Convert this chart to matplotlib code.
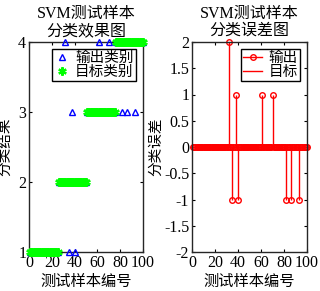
import numpy as np
import matplotlib
matplotlib.use("Agg")
import matplotlib.pyplot as plt
from matplotlib.lines import Line2D

plt.rcParams['font.family'] = ['Liberation Serif', 'Noto Sans CJK SC']
plt.rcParams['axes.unicode_minus'] = False

# ---- data ----
n_samples = 100
target_class = [1] * 25 + [2] * 25 + [3] * 25 + [4] * 25
error_idx = [32, 35, 38, 40, 61, 70, 82, 86, 93]
error_val = [2, -1, 1, -1, 1, 1, -1, -1, -1]

sample_no = np.arange(1, n_samples + 1)
target = np.array(target_class, dtype=float)
err = np.zeros(n_samples)
for i, v in zip(error_idx, error_val):
    err[i - 1] = v
output = target + err

fig = plt.figure(figsize=(3.2, 2.91), dpi=100)
ax1 = fig.add_axes([29 / 320, 39 / 291, 114 / 320, 210 / 291])
ax2 = fig.add_axes([192 / 320, 39 / 291, 115 / 320, 210 / 291])

asterisk = (6, 2, 0)
ax1.plot(sample_no, output, linestyle='none', marker='^', markersize=4.5,
         markerfacecolor='none', markeredgecolor='blue', markeredgewidth=1.0,
         label='输出类别', clip_on=False, zorder=3)
ax1.plot(sample_no, target, linestyle='none', marker=asterisk, markersize=6,
         color='#00ff00', markeredgewidth=1.6, label='目标类别', clip_on=False,
         zorder=4)
ax1.set_xlim(0, 100)
ax1.set_ylim(1, 4)
ax1.set_xticks([0, 20, 40, 60, 80, 100])
ax1.set_yticks([1, 2, 3, 4])
ax1.set_title('SVM测试样本\n分类效果图', fontsize=11.5, pad=5, linespacing=1.1)
ax1.set_xlabel('测试样本编号', fontsize=11, labelpad=3)
ax1.set_ylabel('分类结果', fontsize=10.5)
ax1.yaxis.set_label_coords(-0.15, 0.5)
leg1 = ax1.legend(loc='upper right', fontsize=10.5, frameon=True, fancybox=False,
                  edgecolor='black', framealpha=1, handlelength=1.0,
                  handletextpad=0.4, borderpad=0.15, labelspacing=0.05,
                  borderaxespad=0.5)
leg1.get_frame().set_linewidth(1.0)

markerline, stemlines, baseline = ax2.stem(sample_no, err, linefmt='r-',
                                            markerfmt='ro', basefmt='r-')
markerline.set_markerfacecolor('none')
markerline.set_markersize(4)
markerline.set_markeredgewidth(1.0)
markerline.set_clip_on(False)
stemlines.set_linewidth(1.0)
baseline.set_linewidth(1.0)
ax2.plot(sample_no, np.zeros(n_samples), 'r-', linewidth=1.0)
ax2.set_xlim(0, 100)
ax2.set_ylim(-2, 2)
ax2.set_xticks([0, 20, 40, 60, 80, 100])
ax2.set_yticks([-2, -1.5, -1, -0.5, 0, 0.5, 1, 1.5, 2])
ax2.set_yticklabels(['-2', '-1.5', '-1', '-0.5', '0', '0.5', '1', '1.5', '2'])
ax2.set_title('SVM测试样本\n分类误差图', fontsize=11.5, pad=5, linespacing=1.1)
ax2.set_xlabel('测试样本编号', fontsize=11, labelpad=3)
ax2.set_ylabel('分类误差', fontsize=10.5)
ax2.yaxis.set_label_coords(-0.25, 0.5)
handles = [Line2D([], [], color='red', marker='o', markerfacecolor='none',
                  markersize=4, linewidth=1.0),
           Line2D([], [], color='red', linewidth=1.0)]
leg2 = ax2.legend(handles, ['输出', '目标'], loc='upper right', fontsize=10.5,
                  frameon=True, fancybox=False, edgecolor='black', framealpha=1,
                  handlelength=1.3, handletextpad=0.4, borderpad=0.15,
                  labelspacing=0.05, borderaxespad=0.5)
leg2.get_frame().set_linewidth(1.0)

for ax in (ax1, ax2):
    ax.tick_params(direction='in', top=True, right=True, length=2.5,
                   width=0.8, labelsize=11.5, pad=2)
    for s in ax.spines.values():
        s.set_linewidth(1.0)
        s.set_color('#262626')

fig.savefig('out.png', dpi=100)
